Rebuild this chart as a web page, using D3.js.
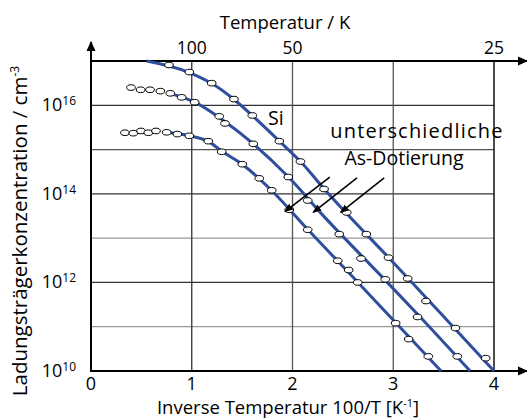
<!DOCTYPE html>
<html>
<head>
<meta charset="utf-8">
<script src="https://cdn.jsdelivr.net/npm/d3@7"></script>
<style>
  html, body { margin: 0; padding: 0; background: #fff; }
  svg { display: block; font-family: "Open Sans", "Noto Sans", sans-serif; }
</style>
</head>
<body>
<svg id="chart" width="527" height="419"></svg>
<script>
// ---- data (x = 100/T in 1/K, y = log10 of concentration in cm^-3) ----
const xTicks = [0, 1, 2, 3, 4];
const topTempTicks = [100, 50, 25];          // temperature labels, K
const yTickExps = [10, 12, 14, 16];
const gridExps = [11, 12, 13, 14, 15, 16];

// measured points (markers)
const marks1x = [0.774, 0.976, 1.198, 1.419, 1.601, 1.869, 2.079, 2.313, 2.538, 2.733, 2.953, 3.143, 3.325, 3.618, 3.918];
const marks1y = [16.91, 16.75, 16.50, 16.14, 15.77, 15.19, 14.73, 14.11, 13.58, 13.09, 12.56, 12.09, 11.58, 10.97, 10.29];
const marks2x = [0.397, 0.493, 0.586, 0.688, 0.787, 0.900, 1.029, 1.273, 1.330, 1.611, 1.958, 2.151, 2.464, 2.680, 2.921, 3.241, 3.636];
const marks2y = [16.40, 16.35, 16.35, 16.32, 16.27, 16.18, 16.07, 15.75, 15.59, 15.13, 14.38, 13.85, 13.09, 12.54, 12.07, 11.22, 10.33];
const marks3x = [0.337, 0.420, 0.496, 0.569, 0.645, 0.751, 0.857, 0.976, 1.164, 1.297, 1.502, 1.670, 1.794, 1.968, 2.151, 2.449, 2.558, 2.647, 3.024, 3.153, 3.348];
const marks3y = [15.38, 15.37, 15.42, 15.38, 15.42, 15.39, 15.35, 15.31, 15.19, 14.95, 14.67, 14.35, 14.08, 13.64, 13.19, 12.49, 12.28, 12.00, 11.08, 10.72, 10.33];

// fitted curves (blue lines)
const line1x = [0.553, 0.976, 1.200, 1.420, 1.600, 1.870, 2.100, 2.300, 3.000, 3.500, 4.000];
const line1y = [17.00, 16.74, 16.49, 16.13, 15.77, 15.19, 14.68, 14.15, 12.45, 11.23, 10.00];
const line2x = [0.780, 1.030, 1.300, 1.600, 1.960, 2.300, 2.900, 3.300, 3.762];
const line2y = [16.27, 16.07, 15.68, 15.15, 14.38, 13.52, 12.10, 11.14, 10.00];
const line3x = [0.730, 0.980, 1.160, 1.300, 1.500, 1.800, 2.150, 2.650, 3.000, 3.474];
const line3y = [15.39, 15.31, 15.19, 14.96, 14.67, 14.06, 13.20, 12.00, 11.15, 10.00];

// annotation arrows: from (x,yExp) to (x,yExp)
const arrowFromX = [2.37, 2.64, 2.91];
const arrowFromY = [14.38, 14.36, 14.36];
const arrowToX = [1.925, 2.205, 2.478];
const arrowToY = [13.60, 13.58, 13.58];

// ---- drawing ----
const svg = d3.select("#chart");
const x = d3.scaleLinear().domain([0, 4]).range([91, 494]);
const y = d3.scaleLog().domain([1e10, 1e17]).range([371, 61]);
const Y = e => y(Math.pow(10, e));
const x0 = x(0), x4 = x(4), yTop = y(1e17), yBot = y(1e10);

const defs = svg.append("defs");
defs.append("marker").attr("id", "ah").attr("viewBox", "0 0 10 10")
  .attr("refX", 9).attr("refY", 5).attr("markerWidth", 9).attr("markerHeight", 9)
  .attr("markerUnits", "userSpaceOnUse").attr("orient", "auto")
  .append("path").attr("d", "M0,1 L10,5 L0,9 Z").attr("fill", "#000");
defs.append("marker").attr("id", "axh").attr("viewBox", "0 0 10 10")
  .attr("refX", 9).attr("refY", 5).attr("markerWidth", 11).attr("markerHeight", 10)
  .attr("markerUnits", "userSpaceOnUse").attr("orient", "auto")
  .append("path").attr("d", "M0,0.5 L10,5 L0,9.5 Z").attr("fill", "#000");

// horizontal grid
const gridColor = e => (e % 2 === 0 ? "#333" : (e === 15 ? "#555" : "#999"));
svg.append("g").selectAll("line").data(gridExps).join("line")
  .attr("x1", x0).attr("x2", x4).attr("y1", d => Y(d)).attr("y2", d => Y(d))
  .attr("stroke", gridColor).attr("stroke-width", 1.3);

// vertical grid
svg.append("g").selectAll("line").data([1, 2, 3]).join("line")
  .attr("x1", d => x(d)).attr("x2", d => x(d)).attr("y1", yTop).attr("y2", yBot)
  .attr("stroke", (d, i) => i === 0 ? "#333" : "#555").attr("stroke-width", 1.3);
svg.append("line").attr("x1", x4).attr("x2", x4).attr("y1", yTop).attr("y2", yBot)
  .attr("stroke", "#111").attr("stroke-width", 1.5);

// axes
svg.append("line").attr("x1", x0).attr("x2", x0).attr("y1", yBot + 1).attr("y2", 42)
  .attr("stroke", "#000").attr("stroke-width", 2).attr("marker-end", "url(#axh)");
svg.append("line").attr("x1", x0 - 1).attr("x2", 527).attr("y1", yBot).attr("y2", yBot)
  .attr("stroke", "#000").attr("stroke-width", 2).attr("marker-end", "url(#axh)");
svg.append("line").attr("x1", x0 - 1).attr("x2", 527).attr("y1", yTop).attr("y2", yTop)
  .attr("stroke", "#000").attr("stroke-width", 2).attr("marker-end", "url(#axh)");

// curves
const lineGen = d3.line().x(d => x(d[0])).y(d => Y(d[1])).curve(d3.curveMonotoneX);
const lines = [[line1x, line1y], [line2x, line2y], [line3x, line3y]];
svg.append("g").selectAll("path").data(lines).join("path")
  .attr("d", d => lineGen(d[0].map((v, i) => [v, d[1][i]])))
  .attr("fill", "none").attr("stroke", "#2f4e9e").attr("stroke-width", 3);

// markers
const marks = [[marks1x, marks1y], [marks2x, marks2y], [marks3x, marks3y]];
marks.forEach(m => {
  svg.append("g").selectAll("ellipse").data(m[0].map((v, i) => [v, m[1][i]])).join("ellipse")
    .attr("cx", d => x(d[0])).attr("cy", d => Y(d[1]))
    .attr("rx", 4.3).attr("ry", 2.8)
    .attr("fill", "#fff").attr("stroke", "#000").attr("stroke-width", 1);
});

// annotation arrows
svg.append("g").selectAll("line").data(arrowFromX.map((v, i) => i)).join("line")
  .attr("x1", i => x(arrowFromX[i])).attr("y1", i => Y(arrowFromY[i]))
  .attr("x2", i => x(arrowToX[i])).attr("y2", i => Y(arrowToY[i]))
  .attr("stroke", "#000").attr("stroke-width", 1.6).attr("marker-end", "url(#ah)");

// bottom tick labels
svg.append("g").selectAll("text").data(xTicks).join("text")
  .attr("x", d => x(d)).attr("y", 390).attr("text-anchor", "middle")
  .attr("font-size", 18).text(d => d);

// top tick labels (temperature)
svg.append("g").selectAll("text").data(topTempTicks).join("text")
  .attr("x", d => x(100 / d)).attr("y", 54).attr("text-anchor", "middle")
  .attr("font-size", 17.5).text(d => d);

// y tick labels
const yl = svg.append("g").selectAll("text").data(yTickExps).join("text")
  .attr("x", 76).attr("y", d => Y(d) + 6).attr("text-anchor", "end")
  .attr("font-size", 18);
yl.append("tspan").text("10");
yl.append("tspan").attr("font-size", 12).attr("dy", -6).text(d => d);

// axis titles
svg.append("text").attr("x", 285).attr("y", 29).attr("text-anchor", "middle")
  .attr("font-size", 18.5).text("Temperatur / K");

const xt = svg.append("text").attr("x", 288).attr("y", 414).attr("text-anchor", "middle")
  .attr("font-size", 18.5);
xt.append("tspan").text("Inverse Temperatur 100/T  [K");
xt.append("tspan").attr("font-size", 11).attr("dy", -7).text("-1");
xt.append("tspan").attr("dy", 7).text("]");

const ytl = svg.append("text").attr("transform", "translate(27,231) rotate(-90)")
  .attr("text-anchor", "middle").attr("font-size", 20.5);
ytl.append("tspan").text("Ladungsträgerkonzentration / cm");
ytl.append("tspan").attr("font-size", 12).attr("dy", -8).text("-3");

// annotations
svg.append("text").attr("x", 268).attr("y", 125).attr("font-size", 19.5).text("Si");
svg.append("text").attr("x", 417).attr("y", 138).attr("text-anchor", "middle")
  .attr("font-size", 20).attr("letter-spacing", 1.2).text("unterschiedliche");
svg.append("text").attr("x", 404).attr("y", 165).attr("text-anchor", "middle")
  .attr("font-size", 19.5).text("As-Dotierung");
</script>
</body>
</html>
